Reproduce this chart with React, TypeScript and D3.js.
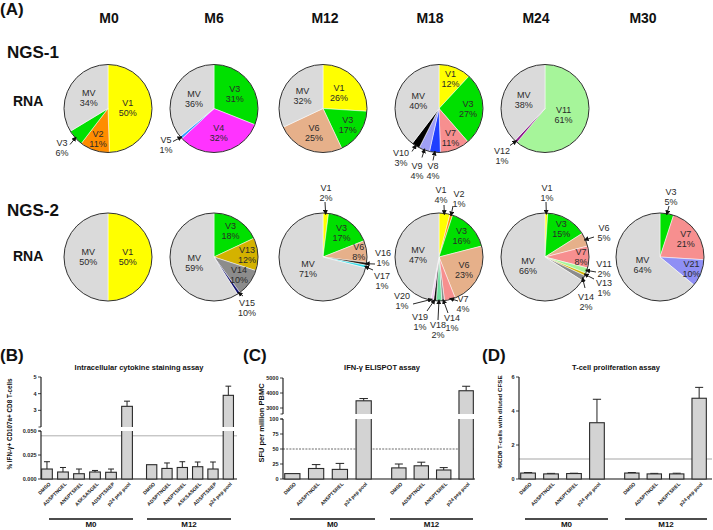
import React from "react";
import * as d3 from "d3";

const FONT = "'Liberation Sans', Arial, Helvetica, sans-serif";

// ---------------- Panel A data ----------------
const timepoints = ["M0", "M6", "M12", "M18", "M24", "M30"];
const sampleRows = ["NGS-1", "NGS-2"];

const ngs1M0 = [{ name: "V1", value: 50 }, { name: "V2", value: 11 }, { name: "V3", value: 6 }, { name: "MV", value: 34 }];
const ngs1M6 = [{ name: "V3", value: 31 }, { name: "V4", value: 32 }, { name: "V5", value: 1 }, { name: "MV", value: 36 }];
const ngs1M12 = [{ name: "V1", value: 26 }, { name: "V3", value: 17 }, { name: "V6", value: 25 }, { name: "MV", value: 32 }];
const ngs1M18 = [
  { name: "V1", value: 12 }, { name: "V3", value: 27 }, { name: "V7", value: 11 }, { name: "V8", value: 4 },
  { name: "V9", value: 4 }, { name: "V10", value: 3 }, { name: "MV", value: 40 },
];
const ngs1M24 = [{ name: "V11", value: 61 }, { name: "V12", value: 1 }, { name: "MV", value: 38 }];

const ngs2M0 = [{ name: "V1", value: 50 }, { name: "MV", value: 50 }];
const ngs2M6 = [{ name: "V3", value: 18 }, { name: "V13", value: 12 }, { name: "V14", value: 10 }, { name: "V15", value: 1 }, { name: "MV", value: 59 }];
const ngs2M12 = [
  { name: "V1", value: 2 }, { name: "V3", value: 17 }, { name: "V6", value: 8 }, { name: "V16", value: 1 },
  { name: "V17", value: 1 }, { name: "MV", value: 71 },
];
const ngs2M18 = [
  { name: "V1", value: 4 }, { name: "V2", value: 1 }, { name: "V3", value: 16 }, { name: "V6", value: 23 },
  { name: "V7", value: 4 }, { name: "V14", value: 1 }, { name: "V18", value: 2 }, { name: "V19", value: 1 },
  { name: "V20", value: 1 }, { name: "MV", value: 47 },
];
const ngs2M24 = [
  { name: "V1", value: 1 }, { name: "V3", value: 15 }, { name: "V6", value: 5 }, { name: "V7", value: 8 },
  { name: "V11", value: 2 }, { name: "V13", value: 1 }, { name: "V14", value: 2 }, { name: "MV", value: 66 },
];
const ngs2M30 = [{ name: "V3", value: 5 }, { name: "V7", value: 21 }, { name: "V21", value: 10 }, { name: "MV", value: 64 }];

const pieRows = [
  [ngs1M0, ngs1M6, ngs1M12, ngs1M18, ngs1M24, null],
  [ngs2M0, ngs2M6, ngs2M12, ngs2M18, ngs2M24, ngs2M30],
];

// printed percentages that differ from the drawn share
const printedPct = { "1-1-V15": "10%" };

const variantColors = {
  MV: "#dadada", V1: "#ffff00", V2: "#ff8c00", V3: "#00e000", V4: "#ff33ff", V5: "#3399ff",
  V6: "#e6b08a", V7: "#f78f8f", V8: "#1f3fff", V9: "#9f9ff5", V10: "#000000", V11: "#a6f59a",
  V12: "#8b1a8b", V13: "#d4b200", V14: "#8c8c8c", V15: "#10106e", V16: "#2a1a10", V17: "#33dde8",
  V18: "#6fe0a0", V19: "#111111", V20: "#f2c8f0", V21: "#8f8ff5",
};

// ---------------- Panels B-D data ----------------
const groupNames = ["M0", "M12"];
const icsPeptides = ["DMSO", "ADSPTNGEL", "ANSPTSREL", "ASKSASGEL", "ADSPTSREP", "p24 pep pool"];
const icsM0 = [0.0104, 0.0073, 0.0055, 0.0073, 0.007, 3.24];
const icsM0Err = [0.0076, 0.0047, 0.0049, 0.0016, 0.0034, 0.31];
const icsM12 = [0.0149, 0.011, 0.012, 0.0128, 0.0104, 3.9];
const icsM12Err = [0, 0.0057, 0.006, 0.0049, 0.0073, 0.55];
const icsTicksLow = [0, 0.025, 0.05];
const icsTicksHigh = [3, 4, 5];

const elispotPeptides = ["DMSO", "ADSPTNGEL", "ANSPTSREL", "p24 pep pool"];
const elispotM0 = [9, 17.5, 16, 3480];
const elispotM0Err = [0, 6.5, 10, 150];
const elispotM12 = [18.5, 22, 15, 4150];
const elispotM12Err = [6.5, 6, 4, 300];
const elispotTicksLow = [0, 25, 50, 75, 100];
const elispotTicksHigh = [3000, 4000, 5000];

const cfsePeptides = ["DMSO", "ADSPTNGEL", "ANSPTSREL", "p24 pep pool"];
const cfseM0 = [0.35, 0.3, 0.32, 3.31];
const cfseM0Err = [0.03, 0.03, 0.02, 1.38];
const cfseM12 = [0.35, 0.3, 0.3, 4.75];
const cfseM12Err = [0.03, 0.03, 0.04, 0.64];
const cfseTicks = [0, 2, 4, 6];

// ---------------- Layout ----------------
const colX = [108, 214, 323, 439, 545, 660];
const headerX = [109, 214, 325, 430, 536, 643];
const rowY = [108.5, 257];
const R = 44;

// inner label radius factor (fraction of R)
const innerR = {
  "0-0-V1": 0.45, "0-0-V2": 0.74, "0-0-MV": 0.5,
  "0-1-V3": 0.57, "0-1-V4": 0.57, "0-1-MV": 0.5,
  "0-2-V1": 0.5, "0-2-V3": 0.68, "0-2-V6": 0.6, "0-2-MV": 0.55,
  "0-3-V1": 0.72, "0-3-V3": 0.66, "0-3-V7": 0.72, "0-3-MV": 0.5,
  "0-4-V11": 0.45, "0-4-MV": 0.52,
  "1-0-V1": 0.45, "1-0-MV": 0.45,
  "1-1-V3": 0.7, "1-1-V13": 0.75, "1-1-V14": 0.7, "1-1-MV": 0.47,
  "1-2-V3": 0.69, "1-2-V6": 0.82, "1-2-MV": 0.43,
  "1-3-V3": 0.7, "1-3-V6": 0.64, "1-3-MV": 0.48,
  "1-4-V3": 0.73, "1-4-V7": 0.82, "1-4-MV": 0.44,
  "1-5-V7": 0.71, "1-5-V21": 0.77, "1-5-MV": 0.44,
};

// callouts: label (lx,ly) and arrow start (sx,sy), relative to pie centre
const callouts = {
  "0-0-V3": { lx: -46, ly: 34, sx: -38, sy: 36 },
  "0-1-V5": { lx: -48, ly: 31, sx: -41, sy: 33 },
  "0-3-V10": { lx: -38, ly: 44, sx: -27, sy: 43 },
  "0-3-V9": { lx: -22, ly: 57, sx: -17, sy: 49 },
  "0-3-V8": { lx: -6, ly: 57, sx: -6, sy: 52 },
  "0-4-V12": { lx: -43, ly: 42, sx: -35, sy: 37 },
  "1-1-V15": { lx: 33, ly: 46, sx: 29, sy: 39 },
  "1-2-V1": { lx: 3, ly: -69, sx: 2, sy: -55 },
  "1-2-V16": { lx: 60, ly: -4, sx: 52, sy: 7 },
  "1-2-V17": { lx: 59, ly: 19, sx: 50, sy: 13 },
  "1-3-V1": { lx: 2, ly: -67, sx: 5, sy: -52 },
  "1-3-V2": { lx: 20, ly: -63, sx: 14, sy: -51 },
  "1-3-V7": { lx: 24, ly: 42, sx: 19, sy: 44 },
  "1-3-V14": { lx: 13, ly: 61, sx: 9, sy: 56 },
  "1-3-V18": { lx: -1, ly: 68, sx: -1, sy: 63 },
  "1-3-V19": { lx: -19, ly: 60, sx: -12, sy: 54 },
  "1-3-V20": { lx: -37, ly: 39, sx: -26, sy: 47 },
  "1-4-V1": { lx: 2, ly: -69, sx: 1, sy: -55 },
  "1-4-V6": { lx: 59, ly: -29, sx: 49, sy: -20 },
  "1-4-V11": { lx: 59, ly: 7, sx: 51, sy: 15 },
  "1-4-V13": { lx: 59, ly: 26, sx: 49, sy: 22 },
  "1-4-V14": { lx: 41, ly: 40, sx: 40, sy: 31 },
  "1-5-V3": { lx: 11, ly: -65, sx: 9, sy: -51 },
};

function PieChart({ data, row, col }) {
  const cx = colX[col];
  const cy = rowY[row];
  const arcs = d3.pie().sort(null).value((d) => d.value)(data);
  const arcGen = d3.arc().innerRadius(0).outerRadius(R);
  const textProps = { fontFamily: FONT, fontSize: 9, fill: "#2a2a2a", textAnchor: "middle" };
  return (
    <g transform={`translate(${cx},${cy})`}>
      {arcs.map((a, i) => (
        <path key={i} d={arcGen(a)} fill={variantColors[a.data.name]} stroke="#ffffff" strokeWidth={0.5} />
      ))}
      <circle r={R} fill="none" stroke="#1a1a1a" strokeWidth={0.9} />
      {arcs.map((a, i) => {
        const key = `${row}-${col}-${a.data.name}`;
        const mid = (a.startAngle + a.endAngle) / 2;
        const pct = printedPct[key] || `${a.data.value}%`;
        const co = callouts[key];
        if (co) {
          const tx = Math.sin(mid) * R * 0.97;
          const ty = -Math.cos(mid) * R * 0.97;
          return (
            <g key={"l" + i}>
              <line x1={co.sx} y1={co.sy} x2={tx} y2={ty} stroke="#111" strokeWidth={0.9} markerEnd="url(#arrowHead)" />
              <text {...textProps} x={co.lx} y={co.ly} dominantBaseline="central">{a.data.name}</text>
              <text {...textProps} x={co.lx} y={co.ly + 10} dominantBaseline="central">{pct}</text>
            </g>
          );
        }
        const f = innerR[key] !== undefined ? innerR[key] : 0.55;
        const x = Math.sin(mid) * R * f;
        const y = -Math.cos(mid) * R * f;
        return (
          <g key={"l" + i}>
            <text {...textProps} x={x} y={y - 5} dominantBaseline="central">{a.data.name}</text>
            <text {...textProps} x={x} y={y + 5} dominantBaseline="central">{pct}</text>
          </g>
        );
      })}
    </g>
  );
}

function BarPanel({ p }) {
  const segs = p.segments.map((s) => ({ ...s, scale: d3.scaleLinear().domain(s.domain).range(s.range) }));
  const yOf = (v) => {
    for (const s of segs) if (v <= s.domain[1]) return s.scale(v);
    return segs[segs.length - 1].scale(v);
  };
  const base = segs[0].range[0];
  const hasBreak = segs.length > 1;
  const refY = yOf(p.ref.value);
  return (
    <g>
      <text x={p.letterX} y={361} fontFamily={FONT} fontSize={17} fontWeight="bold" fill="#111">{p.letter}</text>
      <text x={p.titleX} y={370} fontFamily={FONT} fontSize={7.5} fontWeight="bold" textAnchor="middle" fill="#111">{p.title}</text>
      <text transform={`translate(${p.ylabelX},${p.ylabelY}) rotate(-90)`} fontFamily={FONT} fontSize={p.ylabelSize}
        fontWeight="bold" textAnchor="middle" fill="#111">{p.ylabel}</text>
      {/* reference line */}
      <line x1={p.axisX} x2={p.xEnd} y1={refY} y2={refY} stroke={p.ref.stroke} strokeWidth={p.ref.width}
        strokeDasharray={p.ref.dash || null} />
      {/* axis segments */}
      {segs.map((s, i) => (
        <g key={i}>
          <line x1={p.axisX} x2={p.axisX} y1={s.range[0]} y2={s.range[1]} stroke="#111" strokeWidth={1.1} />
          {hasBreak && <line x1={p.axisX - 2.5} x2={p.axisX} y1={i === 0 ? s.range[1] : s.range[0]} y2={i === 0 ? s.range[1] : s.range[0]} stroke="#111" strokeWidth={0.8} />}
          {s.ticks.map((t) => (
            <g key={t}>
              <line x1={p.axisX - 3} x2={p.axisX} y1={s.scale(t)} y2={s.scale(t)} stroke="#111" strokeWidth={0.8} />
              <text x={p.axisX - 4.5} y={s.scale(t)} fontFamily={FONT} fontSize={5.5} fontWeight="bold" textAnchor="end"
                dominantBaseline="central" fill="#222">{s.fmt(t)}</text>
            </g>
          ))}
        </g>
      ))}
      {/* baseline */}
      <line x1={p.axisX} x2={p.xEnd} y1={base} y2={base} stroke="#111" strokeWidth={1.1} />
      {p.groups.map((g, gi) => {
        const band = d3.scaleBand().domain(g.cats).range(g.range).paddingInner(p.padInner).paddingOuter(p.padOuter);
        const bw = band.bandwidth();
        return (
          <g key={gi}>
            {g.cats.map((c, i) => {
              const v = g.values[i];
              const e = g.errs[i];
              const x = band(c);
              const yv = yOf(v);
              const ye = yOf(v + e);
              const cxm = x + bw / 2;
              return (
                <g key={c}>
                  {e > 0 && (
                    <g>
                      <line x1={cxm} x2={cxm} y1={yv} y2={ye} stroke="#222" strokeWidth={1} />
                      <line x1={cxm - bw * 0.28} x2={cxm + bw * 0.28} y1={ye} y2={ye} stroke="#222" strokeWidth={1} />
                    </g>
                  )}
                  <rect x={x} y={yv} width={bw} height={base - yv} fill="#d3d3d3" stroke="#2a2a2a" strokeWidth={1.1} />
                  {hasBreak && v > segs[0].domain[1] && (
                    <rect x={x - 1.5} y={segs[1].range[0]} width={bw + 3} height={segs[0].range[1] - segs[1].range[0]} fill="#ffffff" />
                  )}
                  <text transform={`translate(${cxm + 2.5},${base + 4}) rotate(-45)`} fontFamily={FONT} fontSize={5}
                    fontWeight="bold" textAnchor="end" dominantBaseline="central" fill="#222">{c}</text>
                </g>
              );
            })}
            <line x1={g.line[0]} x2={g.line[1]} y1={519} y2={519} stroke="#111" strokeWidth={1.4} />
            <text x={(g.line[0] + g.line[1]) / 2} y={527} fontFamily={FONT} fontSize={8} fontWeight="bold"
              textAnchor="middle" fill="#111">{g.name}</text>
          </g>
        );
      })}
    </g>
  );
}

export default function App() {
  const intFmt = (d) => String(d);
  const panelB = {
    letter: "(B)", letterX: 0,
    title: "Intracellular cytokine staining assay", titleX: 139,
    ylabel: "% IFN-\u03b3+ CD107a+ CD8 T-cells", ylabelX: 12, ylabelY: 424, ylabelSize: 6.3,
    axisX: 41, xEnd: 237,
    segments: [
      { domain: [0, 0.05], range: [479, 431], ticks: icsTicksLow, fmt: d3.format(".3f") },
      { domain: [2, 5], range: [427, 377], ticks: icsTicksHigh, fmt: intFmt },
    ],
    padInner: 0.33, padOuter: 0.1,
    ref: { value: 0.045, stroke: "#9a9a9a", width: 0.8 },
    groups: [
      { name: groupNames[0], cats: icsPeptides, values: icsM0, errs: icsM0Err, range: [40, 134], line: [49, 133] },
      { name: groupNames[1], cats: icsPeptides, values: icsM12, errs: icsM12Err, range: [145, 235], line: [147, 231] },
    ],
  };
  const panelC = {
    letter: "(C)", letterX: 243,
    title: "IFN-\u03b3 ELISPOT assay", titleX: 382,
    ylabel: "SFU per million PBMC", ylabelX: 264, ylabelY: 423, ylabelSize: 7.5,
    axisX: 283, xEnd: 475,
    segments: [
      { domain: [0, 100], range: [479, 419], ticks: elispotTicksLow, fmt: intFmt },
      { domain: [2600, 5000], range: [414, 378], ticks: elispotTicksHigh, fmt: intFmt },
    ],
    padInner: 0.36, padOuter: 0.03,
    ref: { value: 50, stroke: "#444", width: 0.8, dash: "2,1.2" },
    groups: [
      { name: groupNames[0], cats: elispotPeptides, values: elispotM0, errs: elispotM0Err, range: [284, 372], line: [290, 375] },
      { name: groupNames[1], cats: elispotPeptides, values: elispotM12, errs: elispotM12Err, range: [391, 474], line: [390, 473] },
    ],
  };
  const panelD = {
    letter: "(D)", letterX: 482,
    title: "T-cell proliferation assay", titleX: 616,
    ylabel: "%CD8 T-cells with diluted CFSE", ylabelX: 502, ylabelY: 422, ylabelSize: 6.2,
    axisX: 519, xEnd: 712,
    segments: [{ domain: [0, 6], range: [479, 377], ticks: cfseTicks, fmt: intFmt }],
    padInner: 0.36, padOuter: 0.03,
    ref: { value: 1.18, stroke: "#d2d2d2", width: 2 },
    groups: [
      { name: groupNames[0], cats: cfsePeptides, values: cfseM0, errs: cfseM0Err, range: [520, 605], line: [525, 608] },
      { name: groupNames[1], cats: cfsePeptides, values: cfseM12, errs: cfseM12Err, range: [624, 707], line: [625, 707] },
    ],
  };

  return (
    <svg width={713} height={530} style={{ position: "absolute", left: 0, top: 0, background: "#fff" }}
      xmlns="http://www.w3.org/2000/svg">
      <defs>
        <marker id="arrowHead" markerUnits="userSpaceOnUse" markerWidth={5} markerHeight={5} refX={4.5} refY={2.5}
          orient="auto">
          <path d="M0,0 L5,2.5 L0,5 z" fill="#111" />
        </marker>
      </defs>
      <rect x={0} y={0} width={713} height={530} fill="#fff" />
      <text x={0} y={15} fontFamily={FONT} fontSize={17} fontWeight="bold" fill="#111">(A)</text>
      {timepoints.map((t, i) => (
        <text key={t} x={headerX[i]} y={23} fontFamily={FONT} fontSize={14} fontWeight="bold" textAnchor="middle" fill="#111">{t}</text>
      ))}
      {sampleRows.map((s, r) => (
        <g key={s}>
          <text x={7} y={r === 0 ? 58 : 216} fontFamily={FONT} fontSize={17} fontWeight="bold" fill="#111">{s}</text>
          <text x={13} y={r === 0 ? 106 : 261} fontFamily={FONT} fontSize={14} fontWeight="bold" fill="#111">RNA</text>
        </g>
      ))}
      {pieRows.map((row, r) =>
        row.map((data, c) => (data ? <PieChart key={`${r}-${c}`} data={data} row={r} col={c} /> : null))
      )}
      <BarPanel p={panelB} />
      <BarPanel p={panelC} />
      <BarPanel p={panelD} />
    </svg>
  );
}
